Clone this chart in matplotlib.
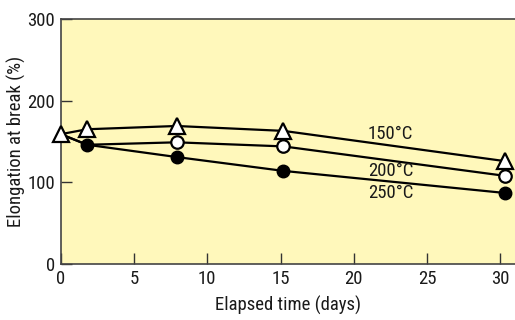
import matplotlib
matplotlib.use('Agg')
import matplotlib.pyplot as plt

plt.rcParams['font.family'] = ['Roboto Condensed', 'DejaVu Sans']

# elapsed time (days)
days = [0, 1.8, 7.9, 15.2, 30.3]
# elongation at break (%)
elong_150 = [159, 165, 169, 163, 126]
elong_200 = [159, 146, 149, 144, 108]
elong_250 = [159, 146, 131, 114, 87]

series_labels = ['150°C', '200°C', '250°C']
label_pos = [(22.5, 159), (22.5, 114), (22.5, 87)]

fig = plt.figure(figsize=(5.15, 3.2), dpi=100)
ax = fig.add_axes([0.118, 0.175, 0.882, 0.7656])
ax.set_facecolor('#fff8bb')

# 250 and 200 start from the shared first point (drawn as a triangle)
ax.plot(days, elong_250, color='black', lw=1.6, marker='o', ms=9,
        mfc='black', mec='black', markevery=[1, 2, 3, 4], zorder=3)
ax.plot(days, elong_200, color='black', lw=1.6, marker='o', ms=9,
        mfc='white', mec='black', mew=1.6, markevery=[2, 3, 4], zorder=3)
ax.plot(days, elong_150, color='black', lw=1.6, marker='^', ms=11,
        mfc='white', mec='black', mew=1.6, zorder=4, clip_on=False)

for lab, (x, y) in zip(series_labels, label_pos):
    ax.text(x, y, lab, ha='center', va='center', fontsize=13.5, color='#1a1a1a')

ax.set_xlim(0, 31)
ax.set_ylim(0, 300)
ax.set_xticks([0, 5, 10, 15, 20, 25, 30])
ax.set_yticks([0, 100, 200, 300])
ax.tick_params(direction='in', length=8, width=1, labelsize=13.5,
               colors='#333333', labelcolor='#1a1a1a')
ax.tick_params(axis='y', pad=4)
ax.tick_params(axis='x', pad=4)

ax.spines['right'].set_visible(False)
for s in ['left', 'bottom', 'top']:
    ax.spines[s].set_color('#444444')
    ax.spines[s].set_linewidth(1.2)

ax.set_xlabel('Elapsed time (days)', fontsize=13.5, color='#1a1a1a', labelpad=6)
ax.set_ylabel('Elongation at break (%)', fontsize=13.5, color='#1a1a1a', labelpad=1)

fig.savefig('out.png', dpi=100)
